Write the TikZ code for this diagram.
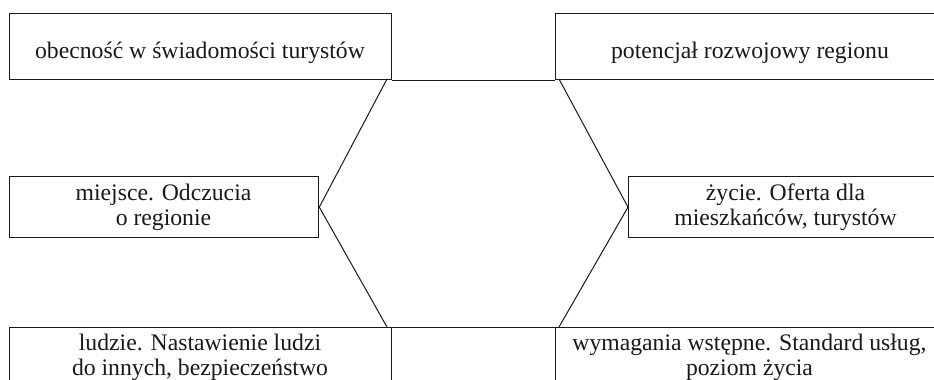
\documentclass[tikz,border=0pt]{standalone}
\usepackage{fontspec}
\setmainfont{Liberation Serif}
\begin{document}
\begin{tikzpicture}[x=1pt,y=-1pt,
  frame/.style={draw=black!90, line width=1.3pt, inner sep=0pt, anchor=north west},
  label/.style={inner sep=0pt, align=center, anchor=base, text=black!90,
                font=\fontsize{23.7}{25}\selectfont},
  side/.style={draw=black!90, line width=1pt}]
\useasboundingbox (0,0) rectangle (934,380);
\clip (0,0) rectangle (934,380);

% six frames around the hexagon
\node[frame, minimum width=382pt, minimum height=66pt] (tl) at (9,13) {};
\node[frame, minimum width=390pt, minimum height=66pt] (tr) at (555,13) {};
\node[frame, minimum width=309pt, minimum height=61pt] (ml) at (9,176) {};
\node[frame, minimum width=316pt, minimum height=61pt] (mr) at (628,176) {};
\node[frame, minimum width=382pt, minimum height=80pt] (bl) at (9,327) {};
\node[frame, minimum width=390pt, minimum height=80pt] (br) at (555,327) {};

% captions (base anchor sits on the last line)
\node[label] (ttl) at (200,58) {obecność w świadomości turystów};
\node[label] (ttr) at (750,58) {potencjał rozwojowy regionu};
\node[label] (tml) at (163.5,225) {miejsce. Odczucia\\o regionie};
\node[label] (tmr) at (785.5,225) {życie. Oferta dla\\mieszkańców, turystów};
\node[label] (tbl) at (200,375) {ludzie. Nastawienie ludzi\\do innych, bezpieczeństwo};
\node[label] (tbr) at (749.5,375) {wymagania wstępne. Standard usług,\\poziom życia};

% hexagon corners
\coordinate (h1) at (387,79);
\coordinate (h2) at (559,79);
\coordinate (h3) at (ml.east);
\coordinate (h4) at (mr.west);
\coordinate (h5) at (387,327);
\coordinate (h6) at (559,327);

% hexagon sides
\draw[side] (tl.south east) -- (tr.south west);
\draw[side] (bl.north east) -- (br.north west);
\draw[side] (h1) -- (h3) -- (h5);
\draw[side] (h2) -- (h4) -- (h6);
\end{tikzpicture}
\end{document}
